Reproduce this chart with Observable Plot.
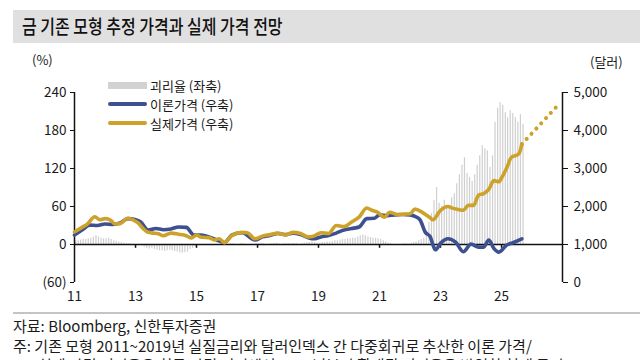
<!DOCTYPE html>
<html>
<head>
<meta charset="utf-8">
<script src="https://cdn.jsdelivr.net/npm/d3@7"></script>
<script src="https://cdn.jsdelivr.net/npm/@observablehq/plot@0.6"></script>
<style>
  body { margin: 0; width: 640px; height: 360px; overflow: hidden; background: #fff;
         font-family: "Noto Sans CJK KR", "Noto Sans", sans-serif; color: #1a1a1a; }
  .abs { position: absolute; white-space: nowrap; }
  #titlebar { left: 13px; top: 10px; width: 627px; height: 33px; background: #e0e0e0; }
  #title { left: 22px; top: 11px; font-size: 19.5px; font-weight: 500; transform: scaleX(0.82); transform-origin: left top; color: #111; }
  #chart { position: absolute; left: 0; top: 45px; }
  .unit { font-size: 13px; }
  .leg { font-size: 13px; }
  .sw { position: absolute; }
  #sep { left: 13px; top: 312px; width: 627px; height: 2px; background: #c4c4c4; }
  .foot { font-size: 15px; left: 13px; }
</style>
</head>
<body>
<div id="titlebar" class="abs"></div>
<div id="title" class="abs">금 기존 모형 추정 가격과 실제 가격 전망</div>
<div id="chart"></div>
<div class="abs unit" style="left:32px; top:50px;">(%)</div>
<div class="abs unit" style="left:590px; top:52px;">(달러)</div>

<div class="sw" style="left:108px; top:82px; width:39px; height:7px; background:#d2d2d2;"></div>
<div class="abs leg" style="left:150px; top:76px;">괴리율 (좌축)</div>
<div class="sw" style="left:108px; top:102px; width:39px; height:4px; background:#3d5191; border-radius:2px;"></div>
<div class="abs leg" style="left:150px; top:95px;">이론가격 (우축)</div>
<div class="sw" style="left:108px; top:121px; width:39px; height:4px; background:#cca22a; border-radius:2px;"></div>
<div class="abs leg" style="left:150px; top:114px;">실제가격 (우축)</div>

<div id="sep" class="abs"></div>
<div class="abs foot" style="top:315px;">자료: Bloomberg, 신한투자증권</div>
<div class="abs foot" style="top:335px;">주: 기존 모형 2011~2019년 실질금리와 달러인덱스 간 다중회귀로 추산한 이론 가격/</div>
<div class="abs foot" style="top:354px; left:38px;">실제 가격 괴리율은 최근 가격 괴리에서 2022년부터 확대된 괴리율을 반영한 현재 금리</div>

<script>
// ---- Data ----
const actualDates = ["2011-01","2011-04","2011-06","2011-09","2011-11","2012-01","2012-03","2012-05","2012-07","2012-10","2012-12",
  "2013-02","2013-04","2013-06","2013-08","2013-10","2013-12","2014-03","2014-06","2014-09","2014-11",
  "2015-01","2015-03","2015-06","2015-08","2015-10","2015-12","2016-03","2016-07","2016-09","2016-12",
  "2017-03","2017-06","2017-09","2017-12","2018-03","2018-06","2018-09","2018-11","2019-02","2019-05","2019-08","2019-11",
  "2020-02","2020-05","2020-08","2020-10","2020-12","2021-03","2021-05","2021-08","2021-11","2022-01","2022-03","2022-06","2022-09","2022-10",
  "2023-01","2023-04","2023-06","2023-08","2023-10","2023-12","2024-02","2024-04","2024-06","2024-08","2024-10","2024-12",
  "2025-01","2025-03","2025-05","2025-07","2025-08","2025-09"];
const actualPrice = [1330,1450,1530,1730,1650,1680,1650,1540,1550,1690,1650,
  1570,1420,1320,1300,1280,1230,1300,1270,1230,1170,
  1250,1190,1180,1120,1150,1050,1240,1320,1310,1150,
  1220,1260,1300,1250,1320,1290,1200,1220,1310,1290,1500,1470,
  1590,1720,1960,1900,1860,1720,1850,1790,1800,1810,1930,1840,1700,1650,
  1900,2000,1950,1920,1900,2030,2030,2300,2340,2450,2680,2650,
  2750,3000,3300,3350,3400,3640];

const theoryDates = ["2011-01","2011-04","2011-07","2011-10","2012-01","2012-04","2012-07","2012-10","2013-01","2013-03","2013-06","2013-09","2013-12",
  "2014-03","2014-06","2014-09","2014-12","2015-03","2015-06","2015-09","2015-12","2016-03","2016-07","2016-12",
  "2017-03","2017-06","2017-09","2017-12","2018-03","2018-06","2018-09","2018-11","2019-02","2019-05","2019-08","2019-11",
  "2020-02","2020-05","2020-08","2020-11","2021-01","2021-04","2021-07","2021-10","2022-01","2022-03","2022-05","2022-07","2022-09","2022-10","2022-11",
  "2023-01","2023-04","2023-07","2023-10","2024-01","2024-04","2024-06","2024-08","2024-10","2024-12","2025-03","2025-06","2025-09"];
const theoryPrice = [1250,1380,1510,1500,1540,1530,1570,1680,1650,1600,1380,1420,1390,
  1410,1460,1450,1250,1250,1200,1120,1050,1250,1310,1120,
  1200,1240,1290,1260,1300,1260,1180,1150,1200,1240,1300,1380,
  1420,1460,1680,1690,1780,1760,1780,1790,1780,1740,1650,1330,1200,1000,860,
  1030,1150,1060,810,1010,930,930,1120,900,800,980,1060,1150];

const forecastDates = ["2025-09","2026-12"];
const forecastPrice = [3640,4720];

// Monthly divergence (%), Jan 2011 - Sep 2025, by year
const gapYears = [2011,2012,2013,2014,2015,2016,2017,2018,2019,2020,2021,2022,2023,2024,2025];
const gapPct = [
  [6,6,7,8,8,9,10,12,14,12,10,9],
  [9,10,8,6,5,4,3,2,1,1,0,0],
  [0,-1,-2,-4,-6,-7,-6,-8,-9,-10,-10,-11],
  [-10,-9,-10,-11,-12,-13,-14,-13,-12,-8,-6,-4],
  [-2,-2,-1,-1,0,-1,-2,-1,0,1,1,0],
  [0,1,1,0,0,1,1,0,-1,-1,0,1],
  [1,2,1,0,0,1,2,2,1,0,1,1],
  [1,1,2,1,0,1,2,3,3,4,3,2],
  [2,3,3,4,4,5,6,6,7,8,8,9],
  [9,10,10,12,14,15,14,12,11,10,10,9],
  [8,6,4,2,1,0,0,0,0,1,1,0],
  [2,3,4,6,8,10,20,35,49,70,90,65],
  [60,70,62,57,74,80,96,110,125,137,112,106],
  [100,110,125,140,156,151,148,122,140,193,215,224],
  [220,208,200,211,207,200,193,205,190]
];

const leftTicks = [-60, 0, 60, 120, 180, 240];
const xTickYears = [2011, 2013, 2015, 2017, 2019, 2021, 2023, 2025];

// ---- Build tables ----
const parse = d3.utcParse("%Y-%m");
const toLeft = p => p * 300 / 5000 - 60;  // dollars -> left-axis units (shared position)
const actual = actualDates.map((d, i) => ({date: parse(d), v: toLeft(actualPrice[i])}));
const theory = theoryDates.map((d, i) => ({date: parse(d), v: toLeft(theoryPrice[i])}));
const forecast = forecastDates.map((d, i) => ({date: parse(d), v: toLeft(forecastPrice[i])}));
const gaps = [];
gapYears.forEach((y, yi) => gapPct[yi].forEach((v, m) => gaps.push({date: new Date(Date.UTC(y, m, 15)), v})));
const xTicks = xTickYears.map(y => new Date(Date.UTC(y, 0, 1)));
const x0 = new Date(Date.UTC(2011, 0, 1)), x1 = new Date(Date.UTC(2027, 0, 1));

const font = "'Noto Sans CJK KR', sans-serif";
const chart = Plot.plot({
  width: 640, height: 265,
  marginLeft: 74, marginRight: 78, marginTop: 47, marginBottom: 28,
  style: {fontFamily: font, fontSize: "13.5px", color: "#1a1a1a", background: "transparent"},
  x: {type: "utc", domain: [x0, x1]},
  y: {domain: [-60, 240]},
  marks: [
    Plot.ruleX(gaps, {x: "date", y: "v", stroke: "#cfcfcf", strokeWidth: 1.2}),
    Plot.ruleY([0], {stroke: "#111", strokeWidth: 1.5}),
    Plot.ruleX(xTicks.slice(1), {x: d => d, y1: 0, y2: -6, stroke: "#111", strokeWidth: 1.5}),
    Plot.ruleX([x0], {x: d => d, y1: -60, y2: 240, stroke: "#111", strokeWidth: 1.5}),
    Plot.ruleX([x1], {x: d => d, y1: -60, y2: 240, stroke: "#111", strokeWidth: 1.5}),
    Plot.axisY({anchor: "left", ticks: leftTicks, tickSize: 4, tickPadding: 4, stroke: "#111",
      tickFormat: d => d < 0 ? `(${-d})` : `${d}`, label: null}),
    Plot.axisY({anchor: "right", ticks: leftTicks, tickSize: 5, tickPadding: 6, stroke: "#111",
      tickFormat: d => d3.format(",")(Math.round((d + 60) * 5000 / 300)), label: null}),
    Plot.axisX({ticks: xTicks, tickSize: 0, tickPadding: 9, tickFormat: d3.utcFormat("%y"), label: null}),
    Plot.line(theory, {x: "date", y: "v", stroke: "#3d5191", strokeWidth: 3.6, curve: "monotone-x"}),
    Plot.line(actual, {x: "date", y: "v", stroke: "#cca22a", strokeWidth: 3.6, curve: "monotone-x"}),
    Plot.line(forecast, {x: "date", y: "v", stroke: "#cca22a", strokeWidth: 4, strokeDasharray: "0.1,7", strokeLinecap: "round"})
  ]
});
document.getElementById("chart").appendChild(chart);
</script>
</body>
</html>
